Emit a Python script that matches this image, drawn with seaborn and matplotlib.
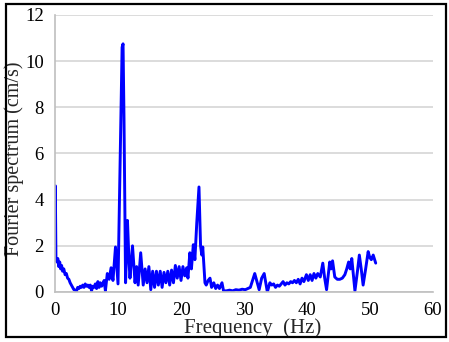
import numpy as np
import matplotlib
matplotlib.use("Agg")
import matplotlib.pyplot as plt
import seaborn as sns
import pandas as pd
from matplotlib.patches import Rectangle

# Fourier spectrum
freq = [
    0.0, 0.05, 0.15, 0.3, 0.45, 0.6, 0.75, 0.9, 1.05, 1.2, 1.4, 1.6, 1.8, 2.0, 2.2, 2.4,
    2.6, 2.8, 3.0, 3.2, 3.4, 3.6, 3.8, 4.0, 4.2, 4.4, 4.6, 4.8, 5.0, 5.2, 5.4, 5.6,
    5.8, 6.0, 6.2, 6.4, 6.6, 6.8, 7.0, 7.2, 7.4, 7.6, 7.8, 8.0, 8.3, 8.6, 8.9, 9.2,
    9.6, 10.0, 10.45, 10.65, 10.8, 10.95, 11.2, 11.5, 11.75, 11.9, 12.3, 12.7, 12.95, 13.2, 13.6,
    14.0, 14.3, 14.6, 14.9, 15.2, 15.5, 15.8, 16.1, 16.4, 16.7, 17.0, 17.3, 17.6, 17.9,
    18.2, 18.5, 18.8, 19.1, 19.4, 19.7, 20.0, 20.3, 20.6, 20.9, 21.1, 21.4, 21.65, 21.95,
    22.2, 22.5, 22.85, 23.1, 23.3, 23.45, 23.8, 24.0, 24.3, 24.6, 24.85, 25.2, 25.5, 25.8,
    26.1, 26.5, 26.75, 27.2, 27.7, 28.2, 28.7, 29.2, 29.7, 30.2, 30.6, 31.0, 31.35, 31.7,
    32.0, 32.4, 32.8, 33.2, 33.45, 33.7, 34.1, 34.4, 34.7, 35.0, 35.3, 35.6, 35.9, 36.2,
    36.5, 36.8, 37.1, 37.4, 37.7, 38.0, 38.3, 38.6, 38.9, 39.2, 39.5, 39.9, 40.2, 40.5,
    40.8, 41.1, 41.4, 41.7, 42.1, 42.5, 42.8, 43.1, 43.6, 43.8, 44.05, 44.4, 44.8, 45.2,
    45.6, 46.0, 46.3, 46.6, 46.85, 47.1, 47.6, 48.0, 48.3, 48.6, 48.9, 49.3, 49.7, 49.95,
    50.2, 50.5, 50.9,
]
amp = [
    2.6, 4.6, 1.5, 1.3, 1.45, 1.1, 1.3, 1.0, 1.15, 0.9, 1.0, 0.75, 0.8, 0.6, 0.55, 0.4,
    0.3, 0.2, 0.1, 0.08, 0.03, 0.2, 0.15, 0.25, 0.2, 0.3, 0.2, 0.35, 0.25, 0.3, 0.2, 0.3,
    0.05, 0.25, 0.2, 0.35, 0.15, 0.45, 0.2, 0.4, 0.25, 0.35, 0.5, 0.05, 0.8, 0.55, 1.05, 0.5,
    1.95, 0.35, 7.5, 10.6, 10.75, 7.5, 0.4, 3.1, 1.3, 0.6, 2.0, 0.4, 1.1, 0.3, 1.7,
    0.3, 1.0, 0.4, 1.1, 0.1, 0.9, 0.2, 0.9, 0.3, 0.9, 0.2, 0.85, 0.4, 0.9,
    0.3, 0.95, 0.4, 1.15, 0.6, 1.1, 0.5, 1.1, 0.7, 1.05, 0.6, 1.7, 1.0, 2.05,
    1.4, 3.0, 4.55, 2.0, 1.6, 1.95, 0.4, 0.3, 0.5, 0.6, 0.2, 0.4, 0.15, 0.3,
    0.15, 0.4, 0.05, 0.05, 0.08, 0.05, 0.1, 0.08, 0.12, 0.1, 0.15, 0.2, 0.5, 0.8,
    0.5, 0.1, 0.6, 0.8, 0.4, 0.0, 0.4, 0.3, 0.35, 0.2, 0.3, 0.25, 0.35, 0.45,
    0.3, 0.4, 0.35, 0.45, 0.4, 0.5, 0.4, 0.55, 0.35, 0.6, 0.45, 0.75, 0.5, 0.75,
    0.5, 0.8, 0.6, 0.8, 0.65, 1.25, 0.6, 0.1, 1.3, 1.0, 1.35, 0.65, 0.55, 0.55,
    0.6, 0.75, 1.0, 1.3, 1.0, 1.45, 0.05, 0.9, 1.6, 1.0, 0.3, 1.0, 1.75, 1.5,
    1.4, 1.6, 1.25,
]
x_ticks = [0, 10, 20, 30, 40, 50, 60]
y_ticks = [0, 2, 4, 6, 8, 10, 12]

sns.set_style("white")
plt.rcParams["font.family"] = ["Liberation Serif", "DejaVu Serif"]

df = pd.DataFrame({"freq": freq, "amp": amp})

fig = plt.figure(figsize=(4.49, 3.42), dpi=100)
ax = fig.add_axes([0.1225, 0.1462, 0.842, 0.81])
sns.lineplot(data=df, x="freq", y="amp", ax=ax, color="#0000ff", linewidth=2.1, sort=False)

ax.set_xlim(0, 60)
ax.set_ylim(0, 12)
ax.set_xticks(x_ticks)
ax.set_yticks(y_ticks)
ax.tick_params(axis="both", length=0, labelsize=13.5, colors="black")
ax.tick_params(axis="x", pad=7)
ax.tick_params(axis="y", pad=8)
ax.yaxis.grid(True, color="#d9d9d9", linewidth=1.3)
ax.xaxis.grid(False)
for side in ["top", "right"]:
    ax.spines[side].set_visible(False)
for side in ["left", "bottom"]:
    ax.spines[side].set_color("#bfbfbf")
    ax.spines[side].set_linewidth(1.2)

ax.set_xlabel("Frequency  (Hz)", fontsize=15)
ax.set_ylabel("Fourier spectrum (cm/s)", fontsize=14.5)
ax.xaxis.set_label_coords(0.524, -0.095)
ax.yaxis.set_label_coords(-0.082, 0.48)

# black frame around the whole picture
fig.patches.append(Rectangle((0.0134, 0.0146), 0.98, 0.973, transform=fig.transFigure,
                             fill=False, edgecolor="black", linewidth=1.6))

fig.savefig("out.png", dpi=100)
